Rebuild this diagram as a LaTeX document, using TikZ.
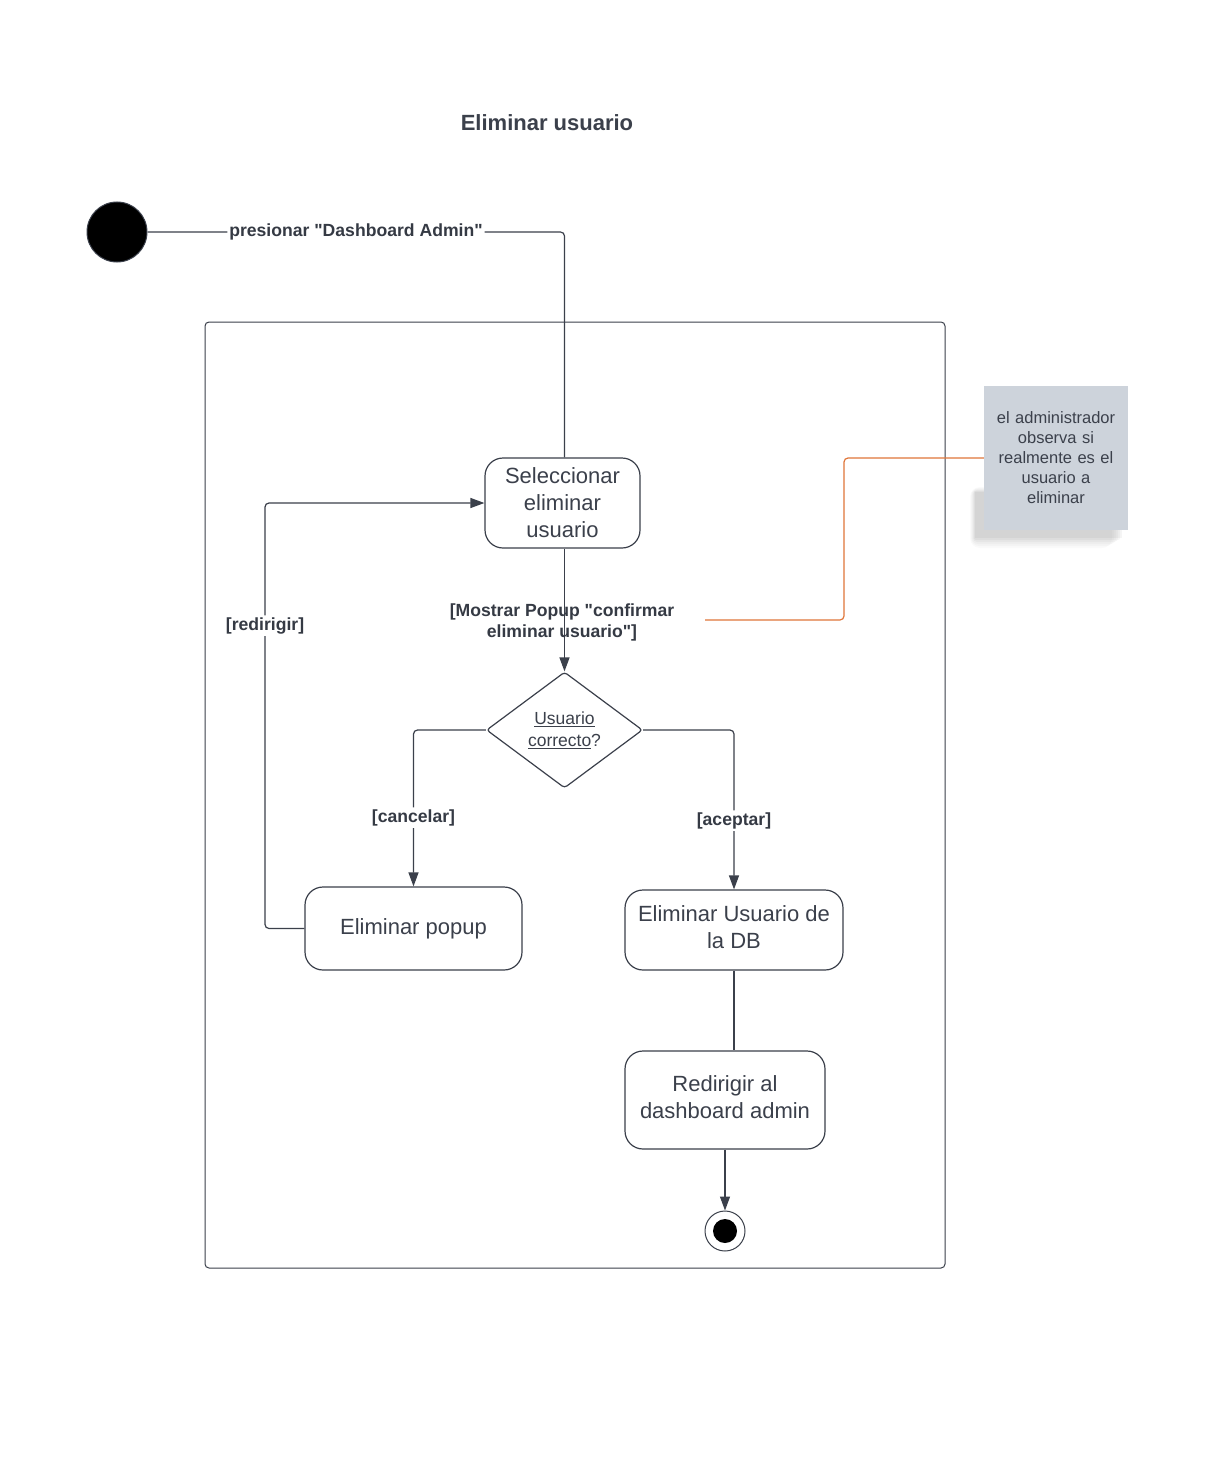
\documentclass[tikz,border=0pt]{standalone}
\usepackage{fontspec}
\setmainfont{Liberation Sans}[Ligatures=TeXOff]
\usetikzlibrary{arrows.meta,shapes.geometric}
\definecolor{ink}{HTML}{3B404B}
\definecolor{notefill}{HTML}{CDD3DB}
\definecolor{noteline}{HTML}{E0763A}
\begin{document}
\begin{tikzpicture}[x=1pt,y=-1pt,
  line/.style={draw=ink, line width=1.2},
  flow/.style={line, -{Triangle[length=14,width=10]}},
  action/.style={draw=ink, line width=1.2, rounded corners=18, fill=white,
    align=center, text=ink, font=\fontsize{22}{27}\selectfont},
  guard/.style={font=\bfseries\fontsize{17.6}{21}\selectfont, text=ink!90!black, align=center, inner sep=2},
  notebox/.style={fill=notefill, minimum width=144, minimum height=144, text width=132,
    align=center, text=ink, font=\fontsize{16.5}{20}\selectfont, inner sep=0}
]
% canvas
\useasboundingbox (0,0) rectangle (1216,1458);
\fill[white] (0,0) rectangle (1216,1458);

% title
\node[font=\bfseries\fontsize{22}{26}\selectfont, text=ink] (title) at (547,123) {Eliminar usuario};

% enclosing activity frame
\node[draw=ink, line width=1, rounded corners=4, minimum width=740, minimum height=946, inner sep=0] (frame) at (575,795) {};

% initial node
\node[circle, fill=black, draw=ink, line width=1, minimum size=60, inner sep=0] (start) at (117,232) {};

% actions
\node[action, minimum width=155, minimum height=90] (sel) at (562.5,503) {Seleccionar\\eliminar\\usuario};
\node[diamond, draw=ink, line width=1.2, rounded corners=3, fill=white, minimum width=156, minimum height=116,
  inner sep=0, align=center, text=ink, font=\fontsize{17.5}{22}\selectfont] (dia) at (564.5,730)
  {\underline{Usuario}\\\underline{correcto}?};
\node[action, minimum width=217, minimum height=83] (pop) at (413.5,928.5) {Eliminar popup};
\node[action, minimum width=218, minimum height=80] (db) at (734,930) {\raisebox{3pt}{\begin{tabular}{@{}c@{}}Eliminar Usuario de\\[0pt]la DB\end{tabular}}};
\node[action, minimum width=200, minimum height=98] (redir) at (725,1100) {\raisebox{3pt}{\begin{tabular}{@{}c@{}}Redirigir al\\[0pt]dashboard admin\end{tabular}}};

% final node
\node[circle, draw=ink, line width=1, fill=white, minimum size=40, inner sep=0] (end) at (725,1231) {};
\fill[black] (end.center) circle (12);

% note with soft shadow
\foreach \s/\o in {10/0.02,8/0.022,6/0.025,4/0.03,2/0.035,0/0.04}{
  \fill[black, opacity=\o, rounded corners=\s] (975-\s/2,492-\s/2) rectangle (1122-\s,538+\s);
}
\node[notebox] (note) at (1056,458) {el administrador\\observa si\\realmente es el\\usuario a\\eliminar};

% connectors
\draw[line, rounded corners=4] (start.east) -| node[guard, fill=white, pos=0.25] {presionar "Dashboard Admin"} (dia.north |- sel.north);
\draw[flow] (dia.north |- sel.south) -- node[guard, pos=0.6, xshift=-2.5] {[Mostrar Popup "confirmar\\eliminar usuario"]} (dia.north);
\draw[flow, rounded corners=4] (dia.west) -| node[guard, fill=white, pos=0.78] {[cancelar]} (pop.north);
\draw[flow, rounded corners=4] (dia.east) -| node[guard, fill=white, pos=0.784] {[aceptar]} (db.north);
\coordinate (loopc) at (265,928.5);
\draw[flow, rounded corners=4] (pop.west) -- (loopc) |- node[guard, fill=white, pos=0.356] {[redirigir]} (sel.west);
\draw[line] (db.south) -- (db.south |- redir.north);
\draw[flow] (redir.south) -- (end.north);

% note anchor line
\coordinate (nstart) at (705,620);
\draw[noteline, line width=1.2, rounded corners=4] (nstart) -- ++(139,0) |- (note.west);
\end{tikzpicture}
\end{document}
